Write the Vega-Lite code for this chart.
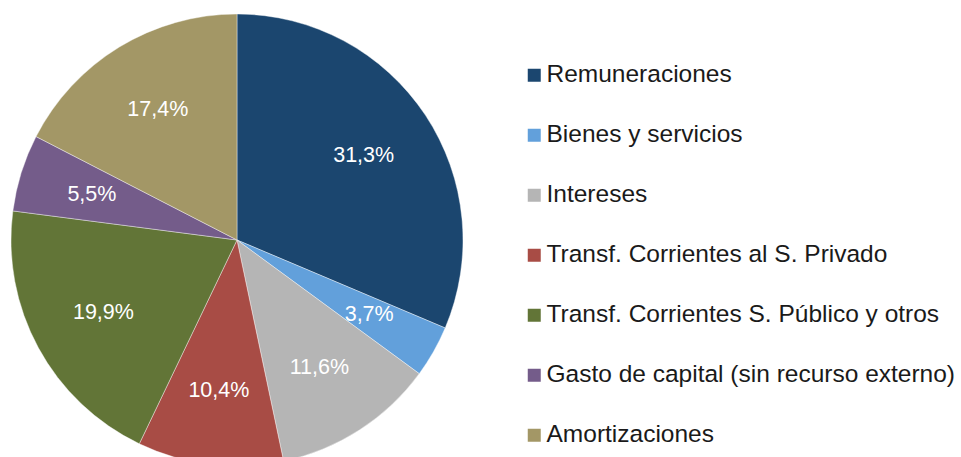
{
  "$schema": "https://vega.github.io/schema/vega-lite/v6.json",
  "width": 474,
  "height": 480,
  "padding": 0,
  "autosize": {"type": "pad"},
  "background": "#ffffff",
  "config": {"view": {"stroke": null}, "font": "Liberation Sans"},
  "data": {
    "values": [
      {"categoria": "Remuneraciones", "valor": 31.3, "etiqueta": "31,3%", "orden": 1},
      {"categoria": "Bienes y servicios", "valor": 3.7, "etiqueta": "3,7%", "orden": 2},
      {"categoria": "Intereses", "valor": 11.6, "etiqueta": "11,6%", "orden": 3},
      {"categoria": "Transf. Corrientes al S. Privado", "valor": 10.4, "etiqueta": "10,4%", "orden": 4},
      {"categoria": "Transf. Corrientes S. Público y otros", "valor": 19.9, "etiqueta": "19,9%", "orden": 5},
      {"categoria": "Gasto de capital (sin recurso externo)", "valor": 5.5, "etiqueta": "5,5%", "orden": 6},
      {"categoria": "Amortizaciones", "valor": 17.4, "etiqueta": "17,4%", "orden": 7}
    ]
  },
  "encoding": {
    "theta": {"field": "valor", "type": "quantitative", "stack": true},
    "order": {"field": "orden", "type": "quantitative"},
    "color": {
      "field": "categoria",
      "type": "nominal",
      "scale": {
        "domain": ["Remuneraciones", "Bienes y servicios", "Intereses", "Transf. Corrientes al S. Privado", "Transf. Corrientes S. Público y otros", "Gasto de capital (sin recurso externo)", "Amortizaciones"],
        "range": ["#1B466F", "#62A0DB", "#B5B5B5", "#A84C45", "#627537", "#745C8A", "#A39766"]
      },
      "legend": {
        "title": null,
        "orient": "none",
        "legendX": 522,
        "legendY": 63,
        "padding": 0,
        "symbolType": "square",
        "symbolSize": 169,
        "symbolStrokeWidth": 0,
        "labelFontSize": 24.5,
        "labelFont": "Liberation Sans",
        "labelColor": "#1a1a1a",
        "labelOffset": 0,
        "labelLimit": 500,
        "rowPadding": 35
      }
    }
  },
  "layer": [
    {"mark": {"type": "arc", "outerRadius": 226, "stroke": "#ffffff", "strokeWidth": 0.4}},
    {
      "mark": {"type": "text", "radius": 152, "fontSize": 21.5, "font": "Liberation Sans", "fill": "#ffffff"},
      "encoding": {"text": {"field": "etiqueta"}, "color": {"value": "#ffffff"}}
    }
  ]
}
